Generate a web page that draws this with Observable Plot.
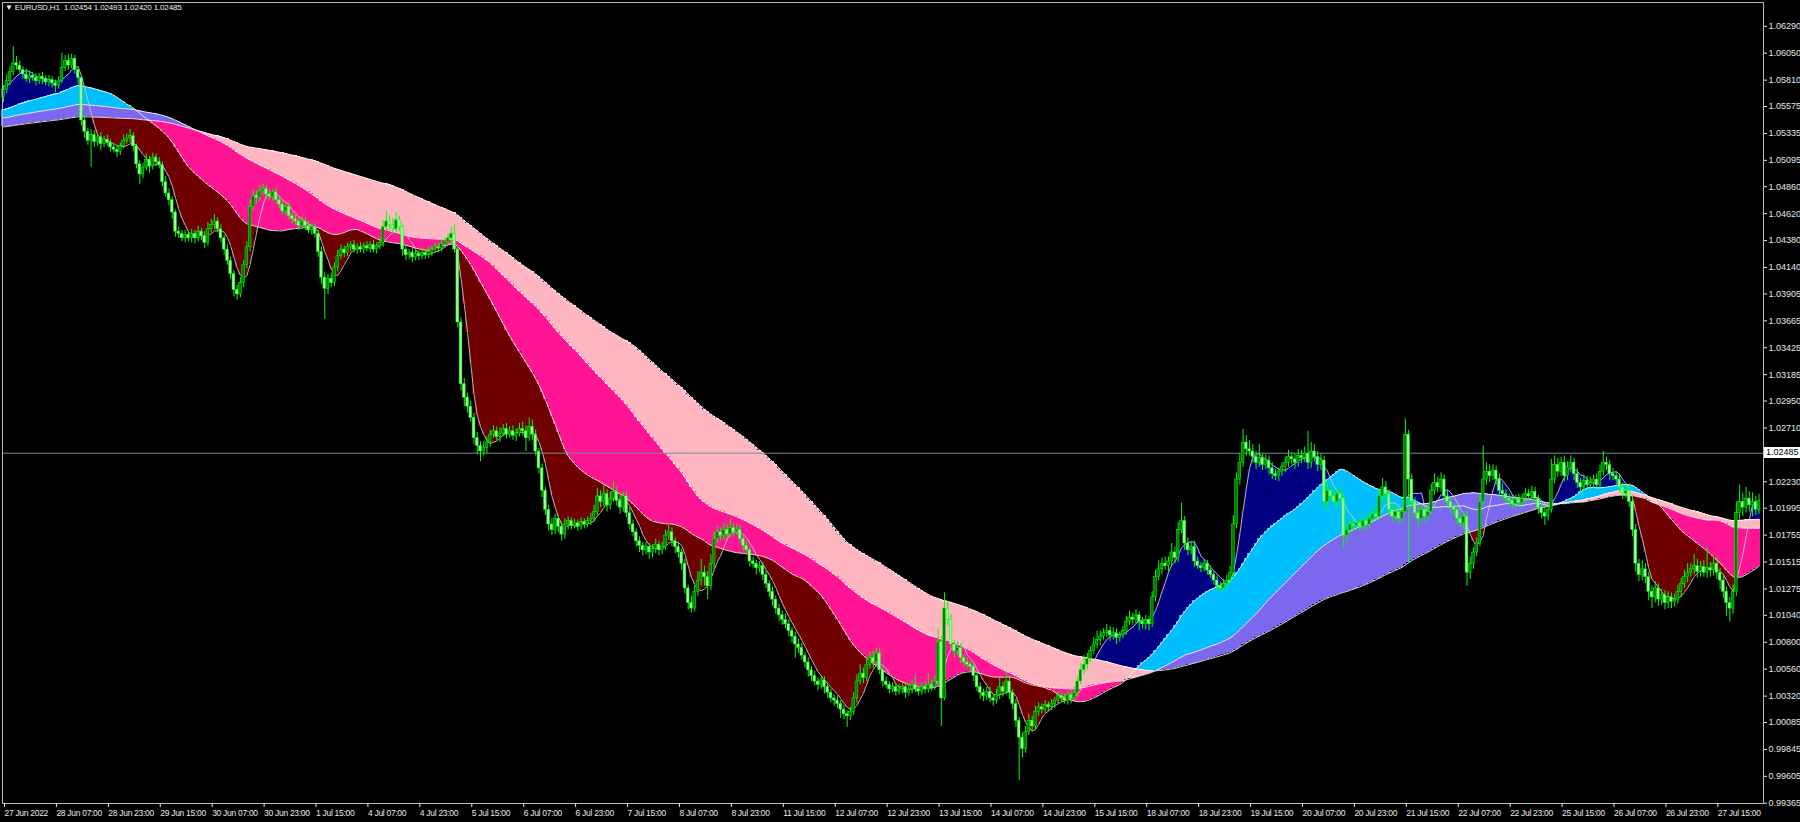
<!DOCTYPE html>
<html><head><meta charset="utf-8">
<script src="https://cdn.jsdelivr.net/npm/d3@7"></script>
<script src="https://cdn.jsdelivr.net/npm/@observablehq/plot@0.6"></script>
<style>
html,body{margin:0;padding:0;background:#000;}
#wrap{position:relative;width:1800px;height:822px;overflow:hidden;background:#000;}
#title{position:absolute;left:5px;top:3px;color:#f0f0f0;font:8px "Liberation Sans",Arial,sans-serif;letter-spacing:-0.15px;white-space:pre;}
#bid{position:absolute;left:1764px;background:#fff;color:#000;font:9px "Liberation Sans",Arial,sans-serif;padding:0 2px;line-height:11px;}
</style></head><body><div id="wrap"><div id="title"></div></div>
<script>
// ---- data (prices in pips: 10572 = 1.0572) ----
const symbol = "EURUSD,H1";
const headerValues = ["1.02454", "1.02493", "1.02420", "1.02485"];
const bidPrice = 1.02485;
const open0 = 10566;
const closes = [
10572,10580,10588,10596,10594,10590,10586,10582,10585,10583,10580,10584,10582,10579,10581,10578,
10576,10580,10592,10598,10594,10600,10590,10583,10545,10535,10527,10532,10526,10530,10524,10528,
10525,10521,10519,10517,10522,10527,10529,10531,10522,10506,10497,10503,10510,10504,10512,10508,
10505,10490,10480,10474,10463,10446,10444,10440,10443,10440,10444,10440,10446,10442,10436,10448,
10452,10455,10448,10440,10430,10420,10408,10394,10390,10400,10416,10432,10468,10478,10476,10482,
10484,10479,10477,10481,10474,10470,10464,10468,10460,10457,10455,10451,10455,10451,10447,10450,
10444,10428,10405,10395,10404,10400,10414,10424,10430,10427,10432,10434,10430,10432,10430,10433,
10431,10434,10430,10433,10436,10450,10455,10452,10448,10456,10450,10430,10425,10427,10423,10426,
10424,10427,10425,10428,10430,10432,10431,10435,10437,10440,10444,10430,10365,10310,10298,10290,
10280,10262,10255,10250,10253,10258,10265,10268,10263,10266,10270,10265,10268,10264,10266,10270,
10268,10262,10272,10265,10250,10235,10215,10198,10185,10180,10190,10183,10176,10185,10188,10184,
10186,10183,10187,10185,10188,10190,10196,10210,10205,10212,10202,10208,10214,10206,10200,10210,
10195,10185,10178,10170,10166,10162,10165,10160,10163,10167,10162,10165,10175,10178,10170,10165,
10160,10150,10128,10115,10110,10125,10135,10142,10138,10130,10150,10172,10178,10175,10180,10176,
10182,10178,10180,10172,10166,10162,10152,10150,10146,10148,10140,10132,10125,10118,10110,10104,
10100,10096,10090,10085,10078,10075,10068,10062,10055,10050,10045,10042,10046,10040,10035,10030,
10028,10025,10020,10016,10014,10018,10030,10045,10052,10048,10060,10066,10062,10070,10055,10045,
10042,10038,10040,10036,10038,10040,10035,10038,10042,10038,10036,10040,10038,10042,10040,10045,
10080,10030,10110,10100,10078,10072,10075,10066,10062,10060,10058,10050,10040,10035,10032,10036,
10030,10028,10033,10040,10036,10045,10035,10025,10010,9995,9985,10000,10010,10005,10018,10022,
10020,10024,10022,10025,10028,10032,10030,10028,10033,10030,10035,10045,10055,10060,10065,10072,
10078,10082,10085,10088,10090,10086,10088,10084,10086,10090,10098,10102,10100,10104,10098,10096,
10100,10096,10120,10138,10145,10150,10148,10152,10160,10155,10180,10188,10168,10162,10165,10152,
10148,10146,10150,10144,10140,10135,10130,10128,10132,10135,10142,10185,10225,10240,10258,10252,
10250,10245,10240,10244,10238,10242,10235,10230,10228,10232,10236,10240,10245,10243,10240,10246,
10244,10248,10240,10250,10245,10238,10242,10205,10215,10210,10205,10212,10208,10175,10180,10185,
10184,10186,10183,10188,10185,10190,10194,10192,10210,10218,10212,10198,10192,10196,10190,10196,
10265,10225,10205,10195,10190,10198,10192,10196,10215,10222,10218,10225,10210,10205,10200,10198,
10190,10186,10192,10142,10150,10160,10168,10205,10225,10232,10228,10233,10225,10215,10212,10208,
10206,10203,10207,10204,10208,10212,10210,10214,10208,10200,10195,10192,10198,10225,10238,10232,
10240,10228,10236,10240,10230,10222,10218,10224,10220,10222,10225,10220,10232,10240,10238,10230,
10228,10225,10218,10212,10215,10205,10180,10150,10140,10145,10138,10125,10120,10128,10118,10122,
10115,10120,10116,10118,10125,10132,10138,10142,10145,10148,10143,10147,10142,10146,10144,10150,
10142,10135,10125,10115,10110,10125,10195,10205,10200,10208,10202,10205,10198,10206
];
const wickUp = [
4,6,5,15,6,4,3,5,4,3,4,3,4,3,4,3,
3,4,13,5,6,4,3,3,2,4,3,5,4,3,4,3,
4,3,3,4,3,5,4,6,3,2,3,4,5,3,4,3,
4,3,5,4,3,2,4,3,4,3,4,3,5,3,4,6,
5,6,3,4,3,4,3,3,4,5,4,5,6,5,4,5,
4,3,4,3,4,3,4,3,4,3,4,3,4,3,4,3,
3,3,4,5,4,5,4,5,4,3,4,3,4,3,4,3,
4,3,4,3,4,6,9,5,6,7,4,3,4,3,4,3,
3,4,3,4,3,4,3,4,3,4,6,8,2,4,5,4,
5,4,5,4,6,5,4,5,4,5,4,5,4,5,4,5,
6,5,8,6,4,3,4,3,4,5,4,3,4,5,4,3,
4,3,4,3,4,5,6,7,5,8,4,6,9,4,5,4,
4,5,4,3,4,3,4,3,4,5,3,4,5,6,4,3,
4,3,4,3,6,5,8,12,6,5,8,6,5,4,6,5,
8,4,5,4,3,4,3,4,3,4,3,4,3,4,3,4,
4,5,4,3,4,5,4,3,4,3,4,3,4,3,4,3,
3,4,3,4,3,4,5,6,8,5,6,5,6,4,5,4,
4,3,4,3,4,3,4,5,4,8,3,4,5,10,4,5,
12,5,14,6,5,4,5,4,3,4,3,4,3,4,3,4,
4,3,5,8,4,10,4,3,4,3,4,5,6,4,5,4,
3,4,3,4,3,4,3,4,3,4,5,4,6,8,5,4,
6,8,5,4,6,4,5,4,3,4,5,6,4,5,3,4,
4,3,5,6,8,5,6,4,8,5,7,16,4,5,4,5,
4,3,4,3,4,3,4,3,4,5,6,8,6,8,12,6,
8,6,5,12,4,5,4,5,4,3,4,5,6,4,5,6,
5,6,20,8,6,5,6,4,8,5,6,5,6,4,5,4,
4,3,4,5,4,5,6,5,6,8,5,4,5,6,4,5,
14,4,5,4,6,5,4,5,6,8,5,6,4,5,4,3,
4,5,4,5,6,4,5,6,30,8,6,5,4,5,6,4,
4,5,4,5,4,5,4,5,4,3,4,5,6,18,8,6,
5,6,5,6,4,5,4,5,4,5,4,5,6,10,5,4,
5,4,5,4,5,6,4,5,4,8,5,4,5,6,4,5,
4,5,4,5,6,5,6,8,5,10,6,5,6,18,5,6,
5,4,5,4,5,6,10,15,8,10,6,8,5,6
];
const wickDn = [
5,3,4,3,4,3,4,3,4,3,4,3,5,3,4,4,
6,3,2,3,4,3,4,6,5,6,4,24,5,4,6,3,
3,4,3,5,3,2,3,4,5,4,9,4,3,6,3,4,
3,4,3,5,6,5,4,3,4,3,4,5,3,4,5,3,
3,4,3,4,5,4,5,6,5,3,4,3,4,3,5,3,
3,4,3,4,3,4,3,4,3,4,3,4,3,4,3,4,
4,5,6,27,5,4,3,4,3,4,3,4,3,4,3,4,
3,4,3,4,3,4,3,4,5,3,4,6,5,4,5,3,
4,3,4,3,4,3,4,3,4,3,4,3,5,6,8,6,
4,6,8,9,4,5,4,3,4,5,3,4,3,4,5,3,
4,12,3,5,4,5,6,5,6,5,4,5,6,4,5,4,
3,4,3,4,3,4,3,4,5,4,6,4,3,5,6,4,
4,5,4,5,6,5,4,6,5,4,5,4,3,4,5,6,
5,6,5,6,4,3,4,5,8,12,4,5,4,5,4,5,
3,4,3,4,5,4,5,4,6,4,5,4,5,6,5,6,
5,4,5,6,12,5,4,5,6,5,4,5,4,6,5,4,
5,4,8,5,10,4,3,4,3,5,3,4,5,3,4,5,
3,4,3,4,3,4,5,3,4,3,4,3,4,3,4,3,
3,25,2,5,4,6,4,5,4,3,4,5,4,6,5,4,
4,5,3,4,5,3,6,5,6,38,8,4,3,5,3,4,
4,3,4,3,4,3,4,3,4,5,3,4,3,4,5,3,
3,4,5,3,4,5,4,6,4,3,4,3,5,4,8,4,
5,6,3,4,3,5,4,6,4,5,4,3,6,5,4,5,
3,4,3,4,3,4,5,4,3,4,3,5,4,5,4,6,
4,5,6,4,5,4,6,5,4,5,4,5,4,5,6,4,
5,4,6,5,4,6,5,8,6,5,6,5,4,12,6,5,
5,4,5,4,5,4,3,4,3,4,5,6,5,4,5,4,
2,75,6,5,8,4,5,4,3,4,5,4,5,4,5,6,
5,4,5,12,6,5,4,3,4,5,6,4,5,6,5,4,
5,4,5,4,5,4,5,4,5,6,5,8,4,3,4,5,
4,5,4,5,6,5,6,4,5,4,5,4,3,4,5,6,
4,5,4,5,4,5,6,8,6,5,6,8,10,5,6,5,
6,5,6,5,4,5,4,5,4,5,6,5,4,5,6,5,
6,8,6,12,12,5,4,6,8,5,6,10,5,4
];
// simple moving averages: periods, and each line's level at the first visible bar
// (that level stands in for the closes before the chart's left edge)
const maPeriods = [6, 34, 75, 120];
const maPriorLevel = [10576, 10554, 10547, 10539];
// price axis ticks
const yTicks = [1.06290,1.06050,1.05810,1.05575,1.05335,1.05095,1.04860,1.04620,1.04380,1.04140,1.03905,1.03665,1.03425,1.03185,1.02950,1.02710,1.02230,1.01995,1.01755,1.01515,1.01275,1.01040,1.00800,1.00560,1.00320,1.00085,0.99845,0.99605,0.99365];
// time axis labels, one per 16 bars
const xTickLabels = ["27 Jun 2022","28 Jun 07:00","28 Jun 23:00","29 Jun 15:00","30 Jun 07:00","30 Jun 23:00","1 Jul 15:00","4 Jul 07:00","4 Jul 23:00","5 Jul 15:00","6 Jul 07:00","6 Jul 23:00","7 Jul 15:00","8 Jul 07:00","8 Jul 23:00","11 Jul 15:00","12 Jul 07:00","12 Jul 23:00","13 Jul 15:00","14 Jul 07:00","14 Jul 23:00","15 Jul 15:00","18 Jul 07:00","18 Jul 23:00","19 Jul 15:00","20 Jul 07:00","20 Jul 23:00","21 Jul 15:00","22 Jul 07:00","22 Jul 23:00","25 Jul 15:00","26 Jul 07:00","26 Jul 23:00","27 Jul 15:00"];
const barsPerLabel = 16;

// ---- derived tables ----
const bars = closes.map((c, i) => {
  const o = i === 0 ? open0 : closes[i - 1];
  return {i, open: o / 1e4, close: c / 1e4,
    high: (Math.max(o, c) + wickUp[i]) / 1e4, low: (Math.min(o, c) - wickDn[i]) / 1e4};
});
const mas = maPeriods.map((n, k) => {
  let sum = 0;
  return closes.map((c, i) => {
    sum += c;
    if (i >= n) sum -= closes[i - n];
    const missing = Math.max(0, n - 1 - i);
    return (sum + missing * maPriorLevel[k]) / n / 1e4;
  });
});
const rows = bars.map((b, i) => ({i, e1: mas[0][i], e2: mas[1][i], e3: mas[2][i], e4: mas[3][i]}));
const xTicks = xTickLabels.map((_, k) => k * barsPerLabel);

const pxPerBar = 3.245, firstBarPx = 3, W = 1800, H = 822;
const pxPerUnit = 11220, bidPx = 452.7;

const plot = Plot.plot({
  width: W, height: H,
  marginLeft: 2, marginRight: 37, marginTop: 2, marginBottom: 19,
  x: {domain: [-firstBarPx / pxPerBar, (W - firstBarPx) / pxPerBar], range: [0, W]},
  y: {domain: [bidPrice - (H - bidPx) / pxPerUnit, bidPrice + bidPx / pxPerUnit], range: [H, 0]},
  color: {type: "identity"},
  style: {background: "#000", color: "#e8e8e8", fontFamily: "'Liberation Sans', Arial, sans-serif", fontSize: "9px", overflow: "visible"},
  marks: [
    Plot.rect(rows, {x1: d => d.i - 0.5, x2: d => d.i + 0.5, y1: "e1", y2: "e2",
      fill: d => d.e1 >= d.e2 ? "#000080" : "#6e0000", shapeRendering: "crispEdges"}),
    Plot.rect(rows, {x1: d => d.i - 0.5, x2: d => d.i + 0.5, y1: "e2", y2: "e3",
      fill: d => d.e2 >= d.e3 ? "#00bfff" : "#ff1493", shapeRendering: "crispEdges"}),
    Plot.rect(rows, {x1: d => d.i - 0.5, x2: d => d.i + 0.5, y1: "e3", y2: "e4",
      fill: d => d.e3 >= d.e4 ? "#7b68ee" : "#ffb6c1", shapeRendering: "crispEdges"}),
    Plot.line(rows, {x: "i", y: "e4", stroke: "#ffffff", strokeWidth: 1, strokeOpacity: 0.85}),
    Plot.line(rows, {x: "i", y: "e3", stroke: "#ffffff", strokeWidth: 1, strokeOpacity: 0.85}),
    Plot.line(rows, {x: "i", y: "e2", stroke: "#ffffff", strokeWidth: 1, strokeOpacity: 0.85}),
    Plot.line(rows, {x: "i", y: "e1", stroke: "#c8c8c8", strokeWidth: 1, strokeOpacity: 0.9}),
    Plot.ruleY([bidPrice], {stroke: "#778899", strokeWidth: 1}),
    Plot.ruleX(bars, {x: "i", y1: "low", y2: "high", stroke: "#00ff00", strokeWidth: 1}),
    Plot.rect(bars, {x1: d => d.i - 0.42, x2: d => d.i + 0.42, y1: "open", y2: "close",
      fill: d => d.close >= d.open ? "#008000" : "#98fb98", stroke: "#00ff00", strokeWidth: 0.5}),
    Plot.frame({stroke: "#b8b8b8"}),
    Plot.axisY(yTicks, {anchor: "right", label: null, tickSize: 3, tickPadding: 2, tickFormat: d3.format(".5f")}),
    Plot.axisX(xTicks, {anchor: "bottom", label: null, tickSize: 4, tickPadding: 2, textAnchor: "start", dx: 1,
      fontSize: 8.5, tickFormat: d => xTickLabels[d / barsPerLabel]})
  ]
});
const wrap = document.getElementById("wrap");
wrap.appendChild(plot);
plot.style.position = "absolute"; plot.style.left = "0px"; plot.style.top = "0px";
plot.querySelectorAll("g[aria-label='x-axis tick label'] text").forEach(t => t.style.letterSpacing = "-0.3px");
const title = document.getElementById("title");
title.textContent = "▼ " + symbol + "  " + headerValues.join(" ");
title.style.zIndex = 2;
const bid = document.createElement("div");
bid.id = "bid"; bid.textContent = d3.format(".5f")(bidPrice);
bid.style.top = (plot.scale("y").apply(bidPrice) - 6) + "px";
bid.style.zIndex = 2;
wrap.appendChild(bid);
</script></body></html>
